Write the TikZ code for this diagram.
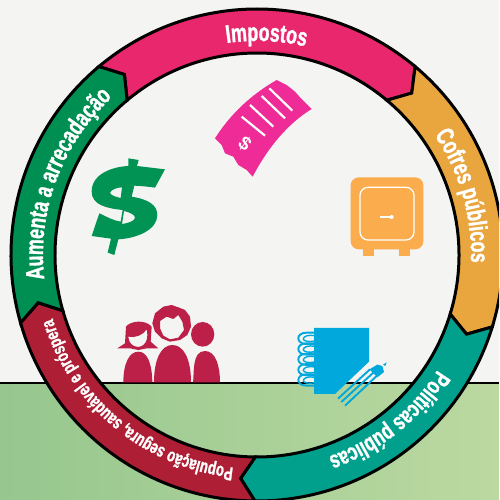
\documentclass[tikz,border=0pt]{standalone}
\usepackage{fontspec}
\usetikzlibrary{decorations.text}
\newfontfamily\arcfont[FakeStretch=0.7,FakeBold=1.2]{Liberation Sans}
\newfontfamily\iconfont{Liberation Sans}
\definecolor{paper}{HTML}{F4F4F3}
\definecolor{gleft}{HTML}{96C78E}
\definecolor{gright}{HTML}{BBD9A1}
\definecolor{cpink}{HTML}{E8276C}
\definecolor{corange}{HTML}{E9A63F}
\definecolor{cteal}{HTML}{00A08D}
\definecolor{cred}{HTML}{AE1F35}
\definecolor{cgreen}{HTML}{008F53}
\definecolor{ireceipt}{HTML}{EE2B97}
\definecolor{idollar}{HTML}{009353}
\definecolor{isafe}{HTML}{FBAC4D}
\definecolor{ibook}{HTML}{00A8DB}
\definecolor{ipeople}{HTML}{BC1F47}
\newcommand\ringseg[3]{%
  \draw[ringline,fill=#1] (#2:246) arc[start angle=#2,end angle=#3,radius=246pt]
    -- ({#3-3.7}:224) -- (#3:202) arc[start angle=#3,end angle=#2,radius=202pt]
    -- ({#2-3.7}:224) -- cycle;}
\newcommand\arctext[3]{%
  \path[decorate,decoration={text along path,text align=center,
    text={|\arcfont\bfseries\fontsize{#2}{#2}\selectfont\color{white}|#3}}]
    ({#1+80}:214) arc[start angle={#1+80},end angle={#1-80},radius=214pt];}
\tikzset{
  ringline/.style={draw=black,line width=3pt,line join=miter},
  whiteline/.style={draw=white,line width=2.2pt},
  cropA/.style={shift={(#1)},x=0.33333pt,y=-0.33333pt}
}
\begin{document}
\begin{tikzpicture}[x=1pt,y=1pt]
\useasboundingbox (0,0) rectangle (499,500);
\clip (0,0) rectangle (499,500);
\fill[paper] (0,0) rectangle (499,500);
\shade[left color=gleft,right color=gright] (0,0) rectangle (499,117);
\draw[black,line width=2.8pt] (0,117) -- (499,117);

% receipt
\begin{scope}[cropA={205pt,430pt}]
\fill[ireceipt] (30,205) .. controls (65,150) and (120,85) .. (215,30)
  -- (245,45) -- (270,65) -- (285,82) -- (320,117)
  .. controls (250,160) and (190,230) .. (143,320)
  -- (125,300) -- (100,285) -- (85,260) -- (60,250) -- (50,225) -- cycle;
\draw[whiteline] (193,55) -- (262,122);
\draw[whiteline] (170,78) -- (240,145);
\draw[whiteline] (135,105) -- (205,170);
\draw[whiteline] (110,140) -- (180,197);
\node[text=white,rotate=-38,inner sep=0pt,font=\iconfont\bfseries\fontsize{19}{19}\selectfont] (receiptsign) at (120,220) {\$};
\end{scope}

% dollar
\begin{scope}[cropA={80pt,350pt}]
\fill[idollar,even odd rule]
  (145,25) -- (176,30) -- (171,48) -- (255,58) -- (225,113)
  .. controls (205,110) and (185,108) .. (163,107) -- (155,140)
  .. controls (205,148) and (232,165) .. (232,195)
  .. controls (232,240) and (170,265) .. (115,268)
  -- (103,315) -- (83,308) -- (93,266) -- (35,258) -- (58,190)
  .. controls (80,200) and (100,212) .. (122,215) -- (128,180)
  .. controls (80,175) and (35,165) .. (35,125)
  .. controls (35,70) and (100,50) .. (145,48) -- cycle
  (90,128) .. controls (95,118) and (110,113) .. (126,112) -- (122,144)
  .. controls (105,140) and (92,136) .. (90,128) -- cycle
  (132,183) .. controls (150,187) and (165,195) .. (165,203)
  .. controls (165,212) and (145,220) .. (126,222) -- cycle;
\end{scope}

% safe
\begin{scope}[cropA={340pt,330pt}]
\fill[isafe] (70,230) rectangle (102,257);
\fill[isafe] (178,230) rectangle (210,257);
\fill[isafe,rounded corners=8pt] (32,22) rectangle (250,238);
\draw[white,line width=1.3pt,rounded corners=8pt] (60,52) rectangle (222,210);
\draw[white,line width=1.3pt] (120,141) -- (155,141);
\fill[white] (155,141) circle[radius=2pt];
\end{scope}

% notebook and pencil
\begin{scope}[cropA={290pt,180pt}]
\foreach \yy in {55,87,118,149,180}{
  \draw[ibook,line width=1.9pt] (75,\yy-17) -- (50,\yy-17) .. controls (32,\yy-17) and (25,\yy-8) .. (25,\yy)
    .. controls (25,\yy+8) and (32,\yy+17) .. (50,\yy+17) -- (75,\yy+17);
  \draw[ibook,line width=1.4pt] (75,\yy-8) .. controls (55,\yy-12) and (40,\yy-6) .. (40,\yy+2)
    .. controls (40,\yy+8) and (55,\yy+12) .. (75,\yy+8);
}
\fill[ibook] (72,24) -- (237,24) -- (237,125) -- (135,222) -- (72,222) -- cycle;
\draw[ibook,line width=1.9pt] (144,236) -- (240,148);
\draw[ibook,line width=1.9pt] (154,246) -- (250,158);
\draw[ibook,line width=1.9pt] (165,257) -- (260,168);
\fill[ibook] (238,148) -- (262,134) -- (277,138) -- (282,156) -- (262,172) -- cycle;
\fill[ibook] (279,134) -- (290,127) -- (286,138) -- cycle;
\end{scope}

% people
\begin{scope}[cropA={110pt,205pt}]
\fill[ipeople] (40,262) .. controls (40,205) and (58,170) .. (85,170) .. controls (112,170) and (126,205) .. (127,262) -- cycle;
\fill[ipeople] (132,262) .. controls (132,190) and (155,150) .. (187,150) .. controls (220,150) and (243,190) .. (243,262) -- cycle;
\fill[ipeople] (249,262) .. controls (253,235) and (245,168) .. (285,168) .. controls (318,168) and (330,215) .. (330,262) -- cycle;
\fill[ipeople] (278,118) ellipse[x radius=35,y radius=37];
\fill[ipeople,even odd rule]
  (160,35) -- (185,30) -- (205,37) -- (225,45) -- (240,65) -- (243,95) -- (232,120) -- (210,135) -- (180,140)
  -- (155,130) -- (135,110) -- (127,85) -- (135,55) -- cycle
  (150,78) -- (170,65) -- (190,72) -- (205,60) -- (217,80) -- (222,105) -- (205,128) -- (180,133) -- (160,122) -- (150,100) -- cycle;
\fill[ipeople,even odd rule]
  (48,95) .. controls (60,78) and (105,72) .. (125,95)
  -- (122,140) -- (145,160) -- (110,160) -- (85,165) -- (60,160) -- (22,160) -- (45,145) -- cycle
  (55,125) .. controls (75,130) and (100,120) .. (110,103)
  .. controls (115,125) and (112,152) .. (85,156) .. controls (65,155) and (56,142) .. (55,125) -- cycle;
\end{scope}

% ring
\begin{scope}[shift={(257pt,245pt)}]
\ringseg{cpink}{130}{50}
\ringseg{corange}{50}{-17}
\ringseg{cteal}{-17}{-90.5}
\ringseg{cred}{-90.5}{-164}
\ringseg{cgreen}{-164}{-230}
\arctext{87.5}{25.5}{Impostos}
\arctext{16}{25.5}{Cofres públicos}
\arctext{-51.5}{24}{Políticas públicas}
\arctext{-129.5}{18.8}{População segura, saudável e próspera}
\arctext{159.5}{25.5}{Aumenta a arrecadação}
\end{scope}
\end{tikzpicture}
\end{document}
